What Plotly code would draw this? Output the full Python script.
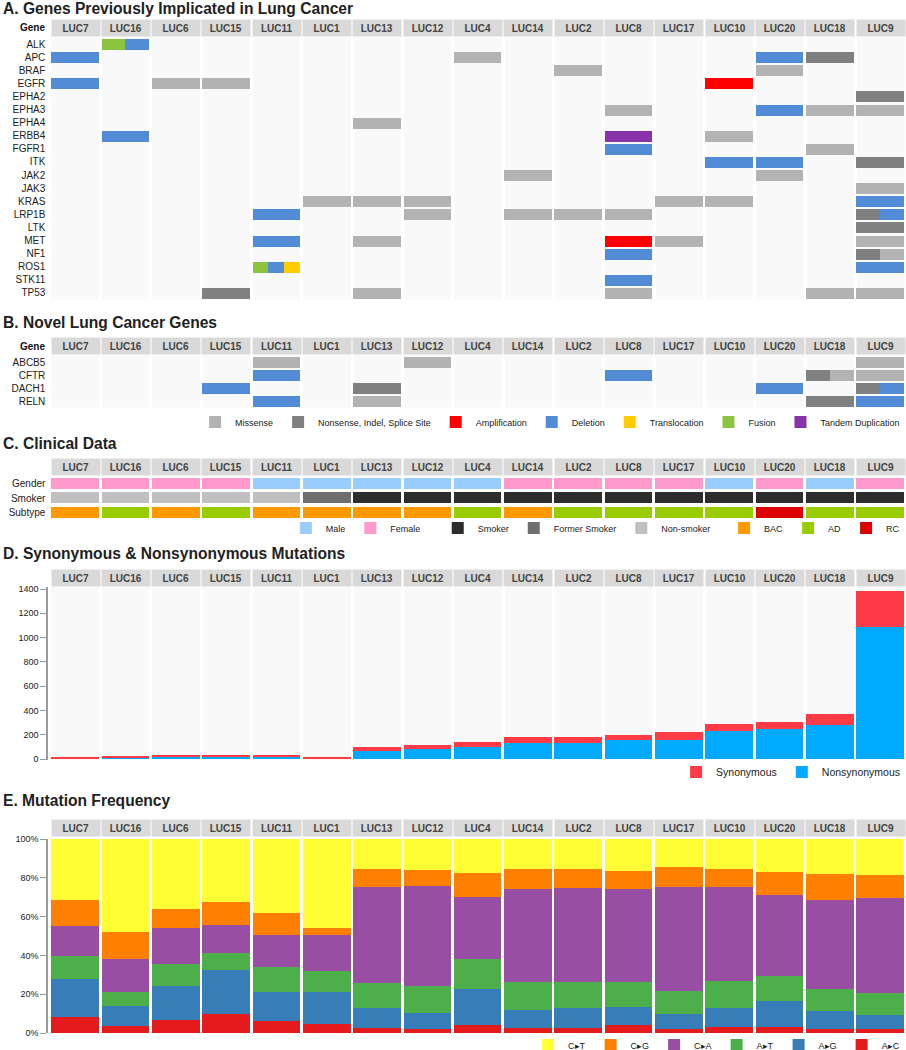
import plotly.graph_objects as go

# ---------------- data ----------------
samples = ["LUC7", "LUC16", "LUC6", "LUC15", "LUC11", "LUC1", "LUC13", "LUC12", "LUC4",
           "LUC14", "LUC2", "LUC8", "LUC17", "LUC10", "LUC20", "LUC18", "LUC9"]

genes_known = ["ALK", "APC", "BRAF", "EGFR", "EPHA2", "EPHA3", "EPHA4", "ERBB4", "FGFR1", "ITK",
               "JAK2", "JAK3", "KRAS", "LRP1B", "LTK", "MET", "NF1", "ROS1", "STK11", "TP53"]
genes_novel = ["ABCB5", "CFTR", "DACH1", "RELN"]

mutation_codes = ["mis", "non", "amp", "del", "trl", "fus", "tdp"]
mutation_names = ["Missense", "Nonsense, Indel, Splice Site", "Amplification", "Deletion",
                  "Translocation", "Fusion", "Tandem Duplication"]
mutation_colors = ["#b3b3b3", "#808080", "#ff0000", "#528bd6", "#ffcc00", "#8cc43f", "#8833aa"]

# (gene, sample, mutation types; "|" = cell split between types)
known_calls = [
    ("ALK", "LUC16", "fus|del"),
    ("APC", "LUC7", "del"), ("APC", "LUC4", "mis"), ("APC", "LUC20", "del"), ("APC", "LUC18", "non"),
    ("BRAF", "LUC2", "mis"), ("BRAF", "LUC20", "mis"),
    ("EGFR", "LUC7", "del"), ("EGFR", "LUC6", "mis"), ("EGFR", "LUC15", "mis"), ("EGFR", "LUC10", "amp"),
    ("EPHA2", "LUC9", "non"),
    ("EPHA3", "LUC8", "mis"), ("EPHA3", "LUC20", "del"), ("EPHA3", "LUC18", "mis"), ("EPHA3", "LUC9", "mis"),
    ("EPHA4", "LUC13", "mis"),
    ("ERBB4", "LUC16", "del"), ("ERBB4", "LUC8", "tdp"), ("ERBB4", "LUC10", "mis"),
    ("FGFR1", "LUC8", "del"), ("FGFR1", "LUC18", "mis"),
    ("ITK", "LUC10", "del"), ("ITK", "LUC20", "del"), ("ITK", "LUC9", "non"),
    ("JAK2", "LUC14", "mis"), ("JAK2", "LUC20", "mis"),
    ("JAK3", "LUC9", "mis"),
    ("KRAS", "LUC1", "mis"), ("KRAS", "LUC13", "mis"), ("KRAS", "LUC12", "mis"), ("KRAS", "LUC17", "mis"),
    ("KRAS", "LUC10", "mis"), ("KRAS", "LUC9", "del"),
    ("LRP1B", "LUC11", "del"), ("LRP1B", "LUC12", "mis"), ("LRP1B", "LUC14", "mis"), ("LRP1B", "LUC2", "mis"),
    ("LRP1B", "LUC8", "mis"), ("LRP1B", "LUC9", "non|del"),
    ("LTK", "LUC9", "non"),
    ("MET", "LUC11", "del"), ("MET", "LUC13", "mis"), ("MET", "LUC8", "amp"), ("MET", "LUC17", "mis"),
    ("MET", "LUC9", "mis"),
    ("NF1", "LUC8", "del"), ("NF1", "LUC9", "non|mis"),
    ("ROS1", "LUC11", "fus|del|trl"), ("ROS1", "LUC9", "del"),
    ("STK11", "LUC8", "del"),
    ("TP53", "LUC15", "non"), ("TP53", "LUC13", "mis"), ("TP53", "LUC8", "mis"), ("TP53", "LUC18", "mis"),
    ("TP53", "LUC9", "mis"),
]

novel_calls = [
    ("ABCB5", "LUC11", "mis"), ("ABCB5", "LUC12", "mis"), ("ABCB5", "LUC9", "mis"),
    ("CFTR", "LUC11", "del"), ("CFTR", "LUC8", "del"), ("CFTR", "LUC18", "non|mis"), ("CFTR", "LUC9", "mis"),
    ("DACH1", "LUC15", "del"), ("DACH1", "LUC13", "non"), ("DACH1", "LUC20", "del"), ("DACH1", "LUC9", "non|del"),
    ("RELN", "LUC11", "del"), ("RELN", "LUC13", "mis"), ("RELN", "LUC18", "non"), ("RELN", "LUC9", "del"),
]

clinical_rows = ["Gender", "Smoker", "Subtype"]
gender = ["Female", "Female", "Female", "Female", "Male", "Male", "Male", "Male", "Male",
          "Female", "Female", "Female", "Female", "Male", "Female", "Male", "Female"]
smoking = ["Non-smoker", "Non-smoker", "Non-smoker", "Non-smoker", "Non-smoker", "Former Smoker",
           "Smoker", "Smoker", "Smoker", "Smoker", "Smoker", "Smoker", "Smoker", "Smoker",
           "Smoker", "Smoker", "Smoker"]
subtype = ["BAC", "AD", "BAC", "AD", "BAC", "BAC", "BAC", "BAC", "AD",
           "BAC", "AD", "AD", "AD", "AD", "RC", "AD", "AD"]
gender_levels = ["Male", "Female"]
gender_colors = ["#99ccff", "#ff99cc"]
smoking_levels = ["Smoker", "Former Smoker", "Non-smoker"]
smoking_colors = ["#2d2d2d", "#6e6e6e", "#c0c0c0"]
subtype_levels = ["BAC", "AD", "RC"]
subtype_colors = ["#ff9900", "#99cc00", "#dd0000"]

nonsynonymous = [5, 10, 16, 16, 16, 5, 63, 85, 99, 134, 134, 151, 156, 230, 244, 279, 1082]
synonymous = [6, 8, 11, 11, 10, 6, 36, 33, 38, 47, 47, 49, 63, 58, 63, 91, 304]
syn_ticks = [0, 200, 400, 600, 800, 1000, 1200, 1400]

# mutation spectrum (% of mutations), bottom to top
spectrum_names = ["A\u25b8C", "A\u25b8G", "A\u25b8T", "C\u25b8A", "C\u25b8G", "C\u25b8T"]
spectrum_colors = ["#e41a1c", "#377eb8", "#4daf4a", "#984ea3", "#ff7f00", "#ffff33"]
a_to_c = [8.4, 3.8, 6.9, 9.6, 6.0, 4.8, 2.6, 2.1, 4.0, 2.4, 2.4, 4.0, 2.1, 2.9, 2.9, 2.1, 2.1]
a_to_g = [19.5, 10.1, 17.2, 22.8, 15.0, 16.2, 10.1, 8.2, 18.9, 9.5, 10.3, 9.4, 7.5, 10.2, 13.8, 9.1, 7.0]
a_to_t = [11.9, 7.1, 11.7, 8.6, 12.9, 10.8, 12.9, 13.8, 15.0, 14.3, 13.8, 13.1, 12.1, 13.8, 12.6, 11.7, 11.4]
c_to_a = [15.6, 16.9, 18.4, 14.9, 16.4, 18.6, 49.8, 51.5, 32.2, 47.8, 48.4, 47.5, 53.5, 48.3, 41.8, 45.6, 49.0]
c_to_g = [13.1, 14.1, 9.5, 11.4, 11.8, 3.6, 9.1, 8.6, 12.2, 10.5, 9.6, 9.6, 10.2, 9.3, 11.9, 13.3, 11.9]
c_to_t = [31.5, 48.0, 36.3, 32.7, 37.9, 46.0, 15.5, 15.8, 17.7, 15.5, 15.5, 16.4, 14.6, 15.5, 17.0, 18.2, 18.6]
spectrum_values = [a_to_c, a_to_g, a_to_t, c_to_a, c_to_g, c_to_t]
pct_ticks = [0, 20, 40, 60, 80, 100]
pct_labels = ["0%", "20%", "40%", "60%", "80%", "100%"]

panel_titles = ["A. Genes Previously Implicated in Lung Cancer", "B. Novel Lung Cancer Genes",
                "C. Clinical Data", "D. Synonymous & Nonsynonymous Mutations", "E. Mutation Frequency"]

# ---------------- layout geometry ----------------
FONT = "Liberation Sans, Arial, Helvetica, sans-serif"
FIG_W, FIG_H = 906, 1050
COL_W = 0.946
X_DOMAIN = [50.35 / FIG_W, 905.66 / FIG_W]


def py(p):
    return 1 - p / FIG_H


# (title y, strip centre y, plot top, plot bottom) in pixels
geom = [(8, 28, 37.5, 299.5), (322, 346, 355.5, 407.5), (443, 467.5, 476.4, 520),
        (553, 577.5, 587.2, 760), (800, 828, 839, 1033)]

fig = go.Figure()
idx = {s: i for i, s in enumerate(samples)}


def add_calls(calls, xa, ya, show):
    for code, name, color in zip(mutation_codes, mutation_names, mutation_colors):
        ys, xs, bases = [], [], []
        for gene, sample, kinds in calls:
            parts = kinds.split("|")
            if code in parts:
                k = len(parts)
                j = parts.index(code)
                c = idx[sample]
                ys.append(gene)
                xs.append(COL_W / k)
                bases.append(c - COL_W / 2 + j * COL_W / k)
        fig.add_trace(go.Bar(orientation="h", y=ys, x=xs, base=bases, width=0.84,
                             marker=dict(color=color, line=dict(width=0)),
                             name=name, legendgroup=name, showlegend=show,
                             legend="legend", xaxis=xa, yaxis=ya, hoverinfo="skip"))


add_calls(known_calls, "x", "y", True)
add_calls(novel_calls, "x2", "y2", False)

# clinical
for row, values, levels, colors, leg in [("Gender", gender, gender_levels, gender_colors, "legend2"),
                                         ("Smoker", smoking, smoking_levels, smoking_colors, "legend3"),
                                         ("Subtype", subtype, subtype_levels, subtype_colors, "legend4")]:
    for lev, col in zip(levels, colors):
        cols = [i for i, v in enumerate(values) if v == lev]
        fig.add_trace(go.Bar(orientation="h", y=[row] * len(cols), x=[COL_W] * len(cols),
                             base=[c - COL_W / 2 for c in cols], width=0.74,
                             marker=dict(color=col, line=dict(width=0)), name=lev,
                             legend=leg, xaxis="x3", yaxis="y3", hoverinfo="skip"))

# synonymous / nonsynonymous
xpos = list(range(len(samples)))
fig.add_trace(go.Bar(x=xpos, y=nonsynonymous, width=COL_W, marker=dict(color="#00aaff", line=dict(width=0)),
                     name="Nonsynonymous", legend="legend5", legendrank=2, xaxis="x4", yaxis="y4",
                     hoverinfo="skip"))
fig.add_trace(go.Bar(x=xpos, y=synonymous, base=nonsynonymous, width=COL_W,
                     marker=dict(color="#ff3b47", line=dict(width=0)),
                     name="Synonymous", legend="legend5", legendrank=1, xaxis="x4", yaxis="y4",
                     hoverinfo="skip"))

# mutation spectrum
cum = [0.0] * len(samples)
for k, (name, color, vals) in enumerate(zip(spectrum_names, spectrum_colors, spectrum_values)):
    fig.add_trace(go.Bar(x=xpos, y=vals, base=list(cum), width=COL_W,
                         marker=dict(color=color, line=dict(width=0)),
                         name=name, legend="legend6", legendrank=10 - k, xaxis="x5", yaxis="y5",
                         hoverinfo="skip"))
    cum = [a + b for a, b in zip(cum, vals)]

# ---------------- axes ----------------
grid_vals = [k + 0.5 for k in range(len(samples) - 1)]
layout = dict(
    width=FIG_W, height=FIG_H, margin=dict(l=0, r=0, t=0, b=0, autoexpand=False),
    barmode="overlay", bargap=0, plot_bgcolor="#f9f9f9", paper_bgcolor="white",
    font=dict(family=FONT, color="#222", size=10), showlegend=True,
)
for i in range(1, 6):
    xk = "xaxis" if i == 1 else f"xaxis{i}"
    layout[xk] = dict(domain=X_DOMAIN, range=[-0.5, len(samples) - 0.5], anchor="y" if i == 1 else f"y{i}",
                      showticklabels=False, ticks="", tickvals=grid_vals, showgrid=(i != 3),
                      gridcolor="white", gridwidth=2.7, zeroline=False, showline=False, fixedrange=True)

cat_axis = dict(type="category", showgrid=False, zeroline=False, showline=False, ticks="outside",
                ticklen=2, tickcolor="rgba(0,0,0,0)", tickfont=dict(size=10, color="#222"), fixedrange=True)
layout["yaxis"] = dict(cat_axis, domain=[py(geom[0][3]), py(geom[0][2])], anchor="x",
                       categoryorder="array", categoryarray=genes_known,
                       range=[len(genes_known) - 0.5, -0.5])
layout["yaxis2"] = dict(cat_axis, domain=[py(geom[1][3]), py(geom[1][2])], anchor="x2",
                        categoryorder="array", categoryarray=genes_novel,
                        range=[len(genes_novel) - 0.5, -0.5])
layout["yaxis3"] = dict(cat_axis, domain=[py(geom[2][3]), py(geom[2][2])], anchor="x3",
                        categoryorder="array", categoryarray=clinical_rows,
                        range=[len(clinical_rows) - 0.5, -0.5])
num_axis = dict(anchor="free", position=47 / FIG_W, showline=True, linecolor="#9a9a9a", linewidth=1.5,
                ticks="outside", ticklen=6, tickcolor="#9a9a9a", tickwidth=1,
                tickfont=dict(size=9, color="#222"), showgrid=False, zeroline=False, fixedrange=True)
layout["yaxis4"] = dict(num_axis, domain=[py(geom[3][3]), py(geom[3][2])], range=[-8, 1415],
                        tickmode="array", tickvals=syn_ticks)
layout["yaxis5"] = dict(num_axis, domain=[py(geom[4][3]), py(geom[4][2])], range=[0, 100],
                        tickmode="array", tickvals=pct_ticks, ticktext=pct_labels)

leg_base = dict(orientation="h", xanchor="right", yanchor="middle", bgcolor="rgba(0,0,0,0)",
                borderwidth=0, font=dict(size=9, color="#222"), traceorder="normal")
layout["legend"] = dict(leg_base, x=0.999, y=py(422))
layout["legend2"] = dict(leg_base, x=0.47, y=py(528))
layout["legend3"] = dict(leg_base, x=0.79, y=py(528))
layout["legend4"] = dict(leg_base, x=0.999, y=py(528))
layout["legend5"] = dict(leg_base, x=0.999, y=py(772), font=dict(size=10.5, color="#222"))
layout["legend6"] = dict(leg_base, x=0.999, y=py(1045))
fig.update_layout(**layout)

# white background for clinical rows
fig.add_shape(type="rect", xref="x3 domain", yref="y3 domain", x0=0, x1=1, y0=0, y1=1,
              fillcolor="white", line=dict(width=0), layer="below")

# ---------------- titles, strips ----------------
ann = []
for (ty, sy, _, _), title in zip(geom, panel_titles):
    ann.append(dict(text=f"<b>{title}</b>", x=0.001, xref="paper", xanchor="left", y=py(ty), yref="paper",
                    yanchor="middle", showarrow=False, font=dict(size=15.6, color="#222")))
for p, (ty, sy, _, _) in enumerate(geom):
    xr = "x" if p == 0 else f"x{p + 1}"
    for c, s in enumerate(samples):
        ann.append(dict(text=f"<b>{s}</b>", x=c, xref=xr, y=py(sy), yref="paper", xanchor="center",
                        yanchor="middle", showarrow=False, width=47.6, height=16, borderpad=0,
                        bgcolor="#d9d9d9", font=dict(size=10, color="#444")))
for p in (0, 1):
    ann.append(dict(text="<b>Gene</b>", x=46.5 / FIG_W, xref="paper", xanchor="right", y=py(geom[p][1]),
                    yref="paper", yanchor="middle", showarrow=False, font=dict(size=10, color="#111")))
fig.update_layout(annotations=ann)

fig.write_html("out.html", config={"displayModeBar": False},
               post_script="document.body.style.margin='0';document.body.style.padding='0';"
                           "document.body.style.overflow='hidden';")
